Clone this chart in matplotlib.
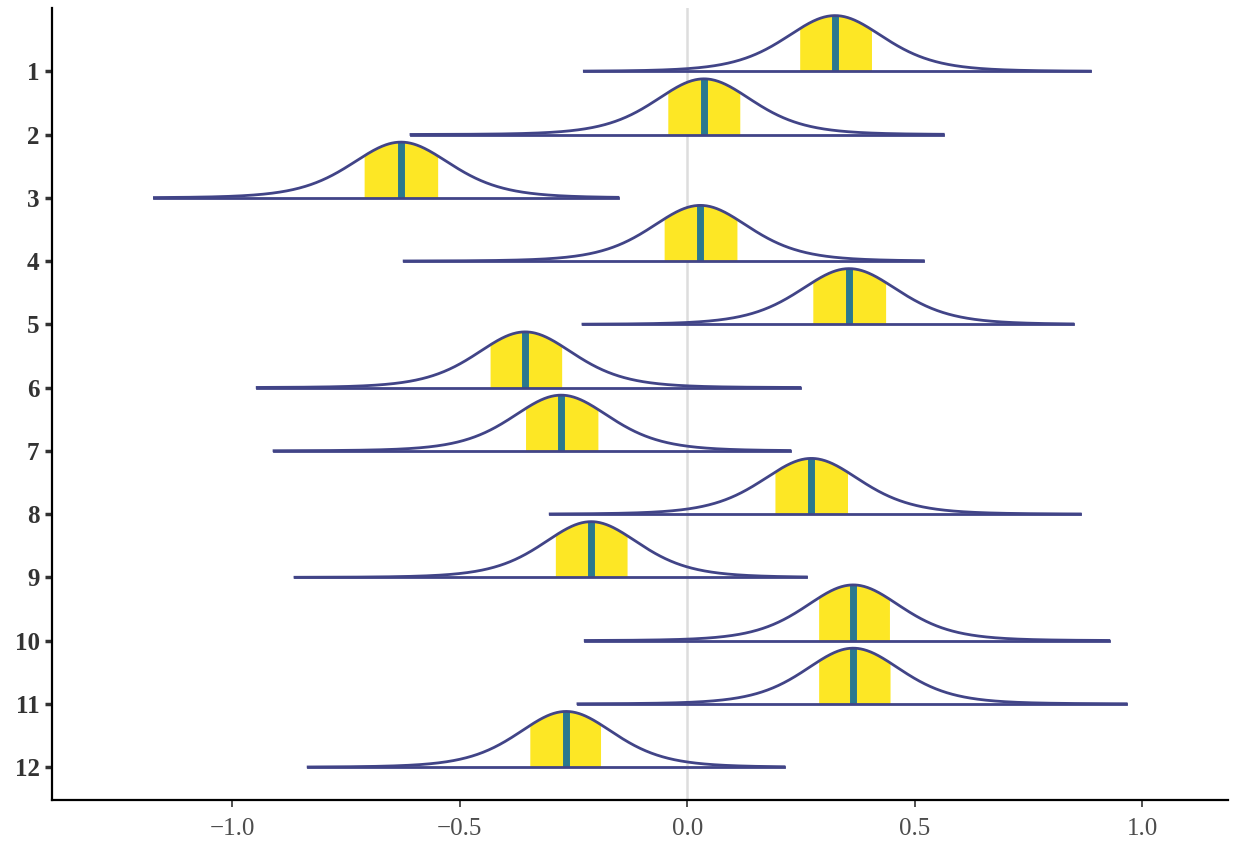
import numpy as np
import matplotlib
matplotlib.use("Agg")
import matplotlib.pyplot as plt

labels = ["1", "2", "3", "4", "5", "6", "7", "8", "9", "10", "11", "12"]
medians = [0.325, 0.037, -0.629, 0.029, 0.356, -0.356, -0.277, 0.273, -0.211, 0.365, 0.365, -0.266]
inner_lo = [0.246, -0.044, -0.710, -0.051, 0.275, -0.435, -0.356, 0.193, -0.290, 0.288, 0.288, -0.347]
inner_hi = [0.407, 0.116, -0.547, 0.110, 0.437, -0.275, -0.196, 0.354, -0.132, 0.446, 0.446, -0.189]
range_lo = [-0.226, -0.607, -1.171, -0.622, -0.229, -0.945, -0.908, -0.301, -0.862, -0.224, -0.240, -0.833]
range_hi = [0.886, 0.563, -0.152, 0.519, 0.848, 0.248, 0.226, 0.864, 0.262, 0.927, 0.965, 0.213]

light = "#FDE725"
mid_hl = "#2A788E"
dark = "#414487"

plt.rcParams["font.family"] = ["Liberation Serif", "DejaVu Serif"]

fig = plt.figure(figsize=(12.33, 8.43), dpi=100)
ax = fig.add_axes([0.0422, 0.051, 0.9538, 0.9395])

n = len(labels)
height = 0.88
nu = 6.0
q75 = 0.718
ax.axvline(0, color="#DDDDDD", lw=1.8, zorder=0)

for i in range(n):
    base = n - i
    med, lo, hi = medians[i], inner_lo[i], inner_hi[i]
    sc = (hi - lo) / (2 * q75)
    xs = np.linspace(range_lo[i], range_hi[i], 600)
    z = (xs - med) / sc
    dens = (1 + z ** 2 / nu) ** (-(nu + 1) / 2)
    ys = base + height * dens
    mask = (xs >= lo) & (xs <= hi)
    ax.fill_between(xs[mask], base, ys[mask], color=light, lw=0, zorder=2)
    ax.plot([med, med], [base, base + height], color=mid_hl, lw=5, solid_capstyle="butt", zorder=3)
    ax.plot(xs, ys, color=dark, lw=2.0, zorder=4)
    ax.plot([range_lo[i], range_hi[i]], [base, base], color=dark, lw=2.0, zorder=4)

ax.set_xlim(-1.396, 1.189)
ax.set_ylim(0.48, 13.0)
ax.set_yticks([n - i for i in range(n)])
ax.set_yticklabels(labels, fontsize=18, fontweight="bold", color="#333333")
ax.set_xticks([-1.0, -0.5, 0.0, 0.5, 1.0])
ax.set_xticklabels(["\u22121.0", "\u22120.5", "0.0", "0.5", "1.0"], fontsize=18, color="#4D4D4D")
for s in ["top", "right"]:
    ax.spines[s].set_visible(False)
for s in ["left", "bottom"]:
    ax.spines[s].set_linewidth(1.6)
    ax.spines[s].set_color("black")
ax.tick_params(axis="y", length=5, width=2.5, color="#333333", pad=4)
ax.tick_params(axis="x", length=5, width=1.2, color="#333333", pad=8)

fig.savefig("out.png", dpi=100)
